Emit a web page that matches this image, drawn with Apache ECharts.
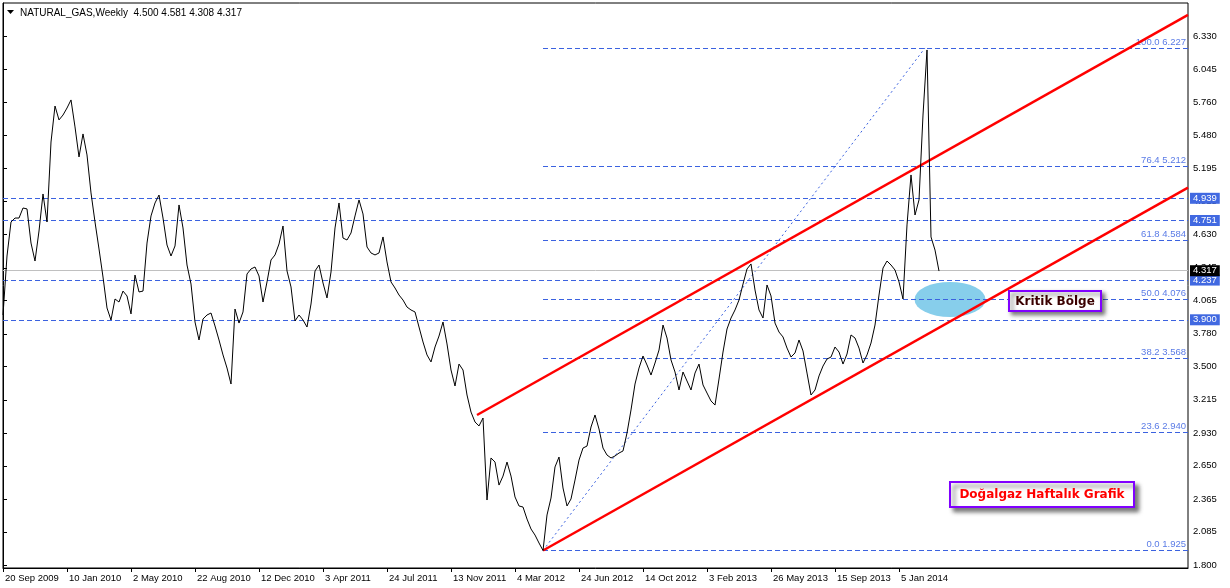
<!DOCTYPE html>
<html>
<head>
<meta charset="utf-8">
<script src="https://cdn.jsdelivr.net/npm/echarts@6/dist/echarts.min.js"></script>
<style>
html,body{margin:0;padding:0;background:#fff;}
#c{width:1230px;height:588px;}
</style>
</head>
<body>
<div id="c"></div>
<script>
// ---- data ----
const title = 'NATURAL_GAS,Weekly  4.500 4.581 4.308 4.317';
// weekly closes, week 0 = 20 Sep 2009
const price = [3.941,4.446,4.737,4.771,4.771,4.857,4.849,4.557,4.403,4.660,
4.977,4.737,5.422,5.730,5.611,5.653,5.713,5.782,5.551,5.294,
5.491,5.311,4.986,4.737,4.506,4.266,4.001,3.898,4.078,4.052,
4.146,4.104,3.950,4.283,4.138,4.146,4.557,4.789,4.900,4.968,
4.771,4.540,4.446,4.532,4.883,4.686,4.369,4.206,3.881,3.727,
3.907,3.941,3.958,3.847,3.727,3.599,3.487,3.350,3.992,3.872,
3.967,4.292,4.335,4.352,4.275,4.052,4.224,4.412,4.455,4.549,
4.703,4.318,4.181,3.890,3.941,3.898,3.838,4.035,4.318,4.369,
4.215,4.087,4.309,4.686,4.900,4.600,4.583,4.643,4.789,4.926,
4.806,4.523,4.472,4.455,4.472,4.609,4.395,4.224,4.172,4.112,
4.069,4.009,3.984,3.967,3.838,3.710,3.599,3.539,3.667,3.761,
3.881,3.693,3.470,3.333,3.521,3.470,3.256,3.110,3.025,2.991,
3.059,2.357,2.717,2.682,2.485,2.562,2.682,2.562,2.383,2.306,
2.297,2.194,2.109,2.057,1.989,1.925,2.229,2.374,2.640,2.725,
2.460,2.306,2.366,2.528,2.699,2.802,2.819,2.982,3.085,2.965,
2.802,2.742,2.717,2.734,2.759,2.777,2.931,3.128,3.350,3.487,
3.590,3.513,3.427,3.530,3.641,3.855,3.744,3.556,3.453,3.299,
3.453,3.376,3.299,3.444,3.521,3.342,3.273,3.205,3.170,3.393,
3.624,3.821,3.915,3.984,4.069,4.206,4.335,4.378,4.155,3.984,
3.915,4.198,4.104,3.872,3.795,3.753,3.658,3.581,3.616,3.727,
3.633,3.444,3.256,3.299,3.419,3.504,3.564,3.581,3.667,3.624,
3.521,3.607,3.770,3.744,3.658,3.530,3.599,3.701,3.855,4.112,
4.343,4.403,4.369,4.326,4.224,4.078,4.712,5.140,4.797,4.926,
5.653,6.210,4.609,4.497,4.317];
const dateLabels = ['20 Sep 2009','10 Jan 2010','2 May 2010','22 Aug 2010','12 Dec 2010','3 Apr 2011','24 Jul 2011','13 Nov 2011','4 Mar 2012','24 Jun 2012','14 Oct 2012','3 Feb 2013','26 May 2013','15 Sep 2013','5 Jan 2014'];
const dateTickWeeks = [0,16,32,48,64,80,96,112,128,144,160,176,192,208,224];
const yTicks = [1.800,2.085,2.365,2.650,2.930,3.215,3.500,3.780,4.065,4.345,4.630,4.915,5.195,5.480,5.760,6.045,6.330];
const fibPct = [100.0,76.4,61.8,50.0,38.2,23.6,0.0];
const fibVal = [6.227,5.212,4.584,4.076,3.568,2.940,1.925];
const fibStartWeek = 135;
const fibDiag = [[135,1.925],[230.5,6.227]];
const hLevels = [4.939,4.751,4.237,3.900];
const lastPrice = 4.317;
const channelUpper = [[118.5,3.085],[296.25,6.510]];
const channelLower = [[135,1.925],[296.25,5.032]];
const zone = [[236.75,4.074]];
const noteCritical = 'Kritik Bölge';
const noteTitle = 'Doğalgaz Haftalık Grafik';

// ---- chart ----
const X_MAX = 296.25;
const chart = echarts.init(document.getElementById('c'), null, {renderer:'canvas'});
const axisFont = {fontFamily:'Liberation Sans', fontSize:9.5, color:'#000'};
const dashBlue = '#3b62e0';
const fibText = '#5a7be6';

const fibLines = fibVal.map((v,i)=>[
  {coord:[fibStartWeek, v], label:{formatter: fibPct[i].toFixed(1)+' '+v.toFixed(3)}},
  {coord:[X_MAX, v]}
]);

const option = {
  animation:false,
  backgroundColor:'#ffffff',
  grid:{left:3, right:42, top:3, bottom:20, show:true, borderColor:'#000', borderWidth:1, backgroundColor:'transparent'},
  xAxis:{
    type:'value', min:0, max:X_MAX,
    axisLine:{show:true, lineStyle:{color:'#000', width:1}},
    axisTick:{show:true, customValues:dateTickWeeks, length:4, lineStyle:{color:'#000'}},
    axisLabel:Object.assign({customValues:dateTickWeeks, align:'left', margin:5, padding:[0,0,0,2],
      formatter:(v)=>dateLabels[dateTickWeeks.indexOf(Math.round(v))] || ''}, axisFont),
    splitLine:{show:false}
  },
  yAxis:{
    type:'value', position:'right', min:1.775, max:6.612,
    axisLine:{show:true, lineStyle:{color:'#000', width:1}},
    axisTick:{show:true, customValues:yTicks, length:4, lineStyle:{color:'#000'}},
    axisLabel:Object.assign({customValues:yTicks, margin:5, formatter:(v)=>v.toFixed(3)}, axisFont),
    splitLine:{show:false}
  },
  series:[
    { // fib levels
      type:'line', data:[], silent:true, z:2,
      markLine:{
        silent:true, symbol:['none','none'], animation:false,
        lineStyle:{color:dashBlue, type:[5,3], width:1},
        label:{position:'insideEndTop', distance:[2,1], color:fibText, fontFamily:'Liberation Sans', fontSize:9.5},
        data: fibLines
      }
    },
    { // full-width levels
      type:'line', data:[], silent:true, z:3,
      markLine:{
        silent:true, symbol:['none','none'], animation:false,
        lineStyle:{color:dashBlue, type:[5,3], width:1},
        label:{position:'end', distance:2, color:'#fff', backgroundColor:'#4169e1', padding:[1,3,0,3],
          fontFamily:'Liberation Sans', fontSize:9.5},
        data: hLevels.map(v=>({yAxis:v, label:{formatter:v.toFixed(3)}}))
      }
    },
    { // current price
      type:'line', data:[], silent:true, z:3,
      markLine:{
        silent:true, symbol:['none','none'], animation:false,
        lineStyle:{color:'#c0c0c0', type:'solid', width:1},
        label:{position:'end', distance:2, color:'#fff', backgroundColor:'#000', padding:[1,3,0,3],
          fontFamily:'Liberation Sans', fontSize:9.5},
        data:[{yAxis:lastPrice, label:{formatter:lastPrice.toFixed(3)}}]
      }
    },
    { // fib diagonal
      type:'line', data:fibDiag, showSymbol:false, silent:true, z:3,
      lineStyle:{color:dashBlue, width:1, type:[2,3]}
    },
    { // zone ellipse
      type:'scatter', data:zone, symbol:'circle', symbolSize:[71,35], silent:true, z:4,
      itemStyle:{color:'#87ceeb', opacity:1}
    },
    { // price
      type:'line', data:price.map((p,i)=>[i,p]), showSymbol:false, silent:true, z:6,
      lineStyle:{color:'#000', width:1}
    },
    { type:'line', data:channelUpper, showSymbol:false, silent:true, z:5, lineStyle:{color:'#ff0000', width:2.5} },
    { type:'line', data:channelLower, showSymbol:false, silent:true, z:5, lineStyle:{color:'#ff0000', width:2.5} }
  ],
  graphic:[
    {type:'polygon', shape:{points:[[7,10],[14,10],[10.5,14]]}, style:{fill:'#000'}, z:100},
    {type:'text', x:20, y:13, style:{text:title, fill:'#000', font:'10px "Liberation Sans"', verticalAlign:'middle'}, z:100},
    {type:'rect', shape:{x:1009,y:291,width:92,height:20}, style:{fill:'#fff', stroke:'#8000ff', lineWidth:2, shadowBlur:4, shadowOffsetX:3, shadowOffsetY:3, shadowColor:'rgba(0,0,0,0.5)'}, z:100},
    {type:'text', x:1055, y:301.5, style:{text:noteCritical, fill:'#3a0000', font:'bold 12px "DejaVu Sans"', align:'center', verticalAlign:'middle'}, z:101},
    {type:'rect', shape:{x:950,y:482,width:184,height:25}, style:{fill:'#fff', stroke:'#8000ff', lineWidth:2, shadowBlur:4, shadowOffsetX:4, shadowOffsetY:4, shadowColor:'rgba(0,0,0,0.5)'}, z:100},
    {type:'text', x:1042, y:495, style:{text:noteTitle, fill:'#ff0000', font:'bold 12px "DejaVu Sans"', align:'center', verticalAlign:'middle'}, z:101}
  ]
};
chart.setOption(option);
</script>
</body>
</html>
